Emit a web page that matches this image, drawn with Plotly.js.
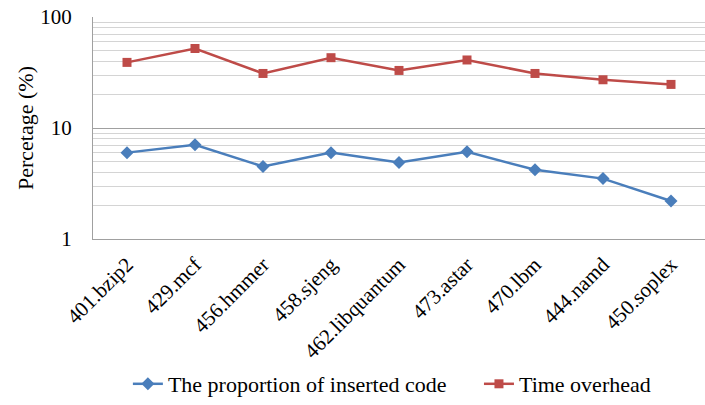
<!DOCTYPE html>
<html>
<head>
<meta charset="utf-8">
<script src="https://cdn.plot.ly/plotly-3.0.1.min.js"></script>
<style>html,body{margin:0;padding:0;background:#fff;}#chart{width:705px;height:405px;}</style>
</head>
<body>
<div id="chart"></div>
<script>
var categories = ["401.bzip2","429.mcf","456.hmmer","458.sjeng","462.libquantum","473.astar","470.lbm","444.namd","450.soplex"];
var insertedCode = [6.0, 7.05, 4.5, 6.0, 4.9, 6.1, 4.2, 3.5, 2.2];
var timeOverhead = [39, 52, 31, 43, 33, 41, 31, 27.2, 24.7];
var seriesNames = ["The proportion of inserted code", "Time overhead"];

var font = "'Liberation Serif', 'Times New Roman', Times, serif";
var pad = "\u00a0\u00a0\u00a0\u00a0\u00a0";
var traces = [
  {x: categories, y: insertedCode, name: seriesNames[0] + pad, type: "scatter", mode: "lines+markers",
   line: {color: "#4a7ebb", width: 2.5}, marker: {symbol: "diamond", size: 10, color: "#4a7ebb"}},
  {x: categories, y: timeOverhead, name: seriesNames[1], type: "scatter", mode: "lines+markers",
   line: {color: "#be4b48", width: 2.5}, marker: {symbol: "square", size: 9, color: "#be4b48"}}
];
var layout = {
  width: 705, height: 405,
  margin: {l: 93, r: 0, t: 17, b: 166},
  paper_bgcolor: "#fff", plot_bgcolor: "#fff",
  font: {family: font, color: "#000"},
  showlegend: true,
  legend: {orientation: "h", x: 0.057, xanchor: "left", y: -0.655, yanchor: "middle",
           font: {family: font, size: 22, color: "#000"}, itemwidth: 30, tracegroupgap: 0},
  xaxis: {type: "category", range: [-0.5, 8.5], tickangle: -45, showgrid: false,
          showline: true, linecolor: "#a0a0a0", linewidth: 1,
          ticks: "outside", ticklen: 4, tickcolor: "rgba(0,0,0,0)",
          tickfont: {family: font, size: 21, color: "#000"}, zeroline: false},
  yaxis: {type: "log", range: [0, 2], tickvals: [1, 10, 100], ticktext: ["1", "10", "100"],
          showgrid: true, gridcolor: "#a0a0a0", gridwidth: 1,
          minor: {tickvals: [2,3,4,5,6,7,8,9,20,30,40,50,60,70,80,90], showgrid: true, gridcolor: "#d4d4d4", gridwidth: 1, ticks: ""},
          showline: true, linecolor: "#a0a0a0", linewidth: 1,
          ticks: "outside", ticklen: 16, tickcolor: "rgba(0,0,0,0)",
          tickfont: {family: font, size: 21, color: "#000"},
          title: {text: "Percetage (%)", font: {family: font, size: 22, color: "#000"}, standoff: 0}}
};
Plotly.newPlot("chart", traces, layout, {displayModeBar: false, staticPlot: true});
</script>
</body>
</html>
